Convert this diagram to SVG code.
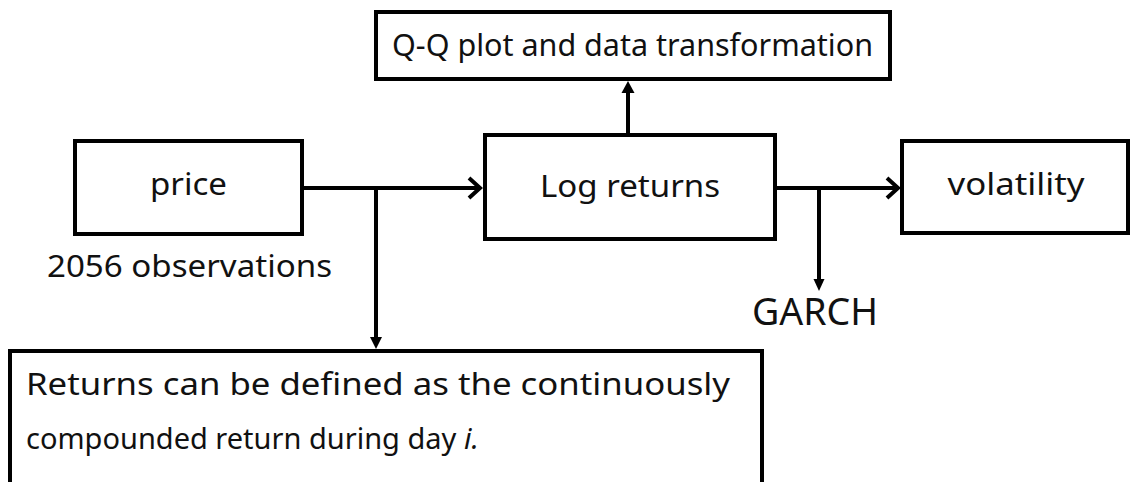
<svg xmlns="http://www.w3.org/2000/svg" width="1132" height="482" viewBox="0 0 1132 482">
<style>
.box{fill:#fff;stroke:#000;stroke-width:4}
.t{font-family:"Noto Sans","DejaVu Sans",sans-serif;font-size:31px;fill:#111}
.c{text-anchor:middle}
.ln{fill:none;stroke:#000;stroke-width:4}
.chev{fill:none;stroke:#000;stroke-width:4;stroke-linejoin:miter}
.tri{fill:#000;stroke:none}
</style>
<rect width="1132" height="482" fill="#fff"/>
<g id="connectors">
<path class="ln" d="M302,188 H478"/>
<path class="chev" d="M469,178 L480,188 L469,198"/>
<path class="ln" d="M376,188 V338"/>
<path class="tri" d="M370,337 L382,337 L376,349 Z"/>
<path class="ln" d="M628,135 V92"/>
<path class="tri" d="M621.5,93 L634.5,93 L628,81 Z"/>
<path class="ln" d="M775,188 H896"/>
<path class="chev" d="M887,178 L898,188 L887,198"/>
<path class="ln" d="M819,188 V280"/>
<path class="tri" d="M813.5,279 L824.5,279 L819,291 Z"/>
</g>
<g id="node-qq">
<rect class="box" x="376" y="12" width="514" height="67"/>
<text class="t c" x="632.5" y="56" textLength="481" lengthAdjust="spacingAndGlyphs">Q-Q plot and data transformation</text>
</g>
<g id="node-price">
<rect class="box" x="75" y="141" width="227" height="93"/>
<text class="t c" x="188.5" y="195" textLength="77" lengthAdjust="spacingAndGlyphs">price</text>
</g>
<g id="label-obs">
<text class="t" x="47" y="277" textLength="285" lengthAdjust="spacingAndGlyphs">2056 observations</text>
</g>
<g id="node-log">
<rect class="box" x="485" y="135" width="290" height="104"/>
<text class="t c" x="630" y="197" textLength="180" lengthAdjust="spacingAndGlyphs">Log returns</text>
</g>
<g id="node-vol">
<rect class="box" x="902" y="141" width="226" height="92"/>
<text class="t c" x="1016" y="195" textLength="137" lengthAdjust="spacingAndGlyphs">volatility</text>
</g>
<g id="label-garch">
<text class="t" x="752" y="325" style="font-size:38px" textLength="126" lengthAdjust="spacingAndGlyphs">GARCH</text>
</g>
<g id="node-returns">
<rect class="box" x="10" y="351" width="752" height="160"/>
<text class="t" x="26" y="395" textLength="704" lengthAdjust="spacingAndGlyphs">Returns can be defined as the continuously</text>
<text class="t" x="26" y="449" style="font-size:29px">compounded return during day <tspan font-style="italic">i.</tspan></text>
</g>
</svg>
